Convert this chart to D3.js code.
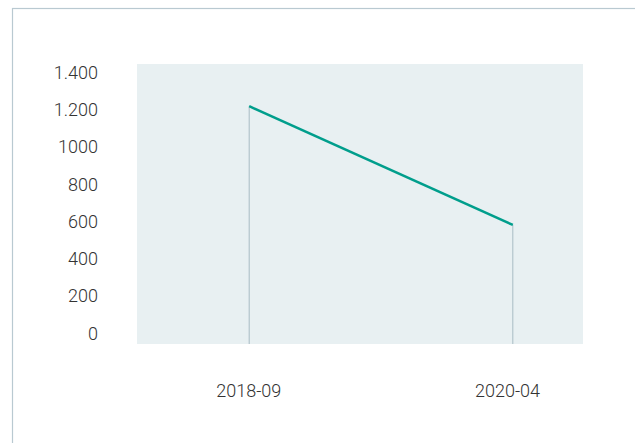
<!DOCTYPE html>
<html><head><meta charset="utf-8">
<script src="https://cdn.jsdelivr.net/npm/d3@7"></script>
<style>
html,body{margin:0;padding:0;background:#fff;}
svg{display:block;}
text{font-family:Roboto,"Noto Sans",sans-serif;font-weight:300;fill:#333;}
</style></head>
<body><svg id="c" width="635" height="443"></svg>
<script>
// data
const dates = ["2018-09-03", "2020-04-14"];
const values = [1220, 582];
const xTickLabels = ["2018-09", "2020-04"];
const yTickValues = [0, 200, 400, 600, 800, 1000, 1200, 1400];
const yTickLabels = ["0", "200", "400", "600", "800", "1000", "1.200", "1.400"];

const svg = d3.select("#c");
const parse = d3.timeParse("%Y-%m-%d");
const parseM = d3.timeParse("%Y-%m");
const pts = dates.map((d, i) => ({ date: parse(d), value: values[i] }));

// frame
svg.append("rect").attr("x", 12.5).attr("y", 8.5).attr("width", 700).attr("height", 500)
  .attr("fill", "none").attr("stroke", "#b9c9d1").attr("stroke-width", 1.2);

const plot = { left: 137, right: 583, top: 64, bottom: 344 };
svg.append("rect").attr("x", plot.left).attr("y", plot.top)
  .attr("width", plot.right - plot.left).attr("height", plot.bottom - plot.top)
  .attr("fill", "#e8f0f2");

const x = d3.scaleTime()
  .domain([parseM("2018-09"), parseM("2020-04")])
  .range([248.3, 507]);
const y = d3.scaleLinear().domain([0, 1400]).range([333.3, 72.7]);

// y axis labels
const yAxis = d3.axisLeft(y).tickValues(yTickValues)
  .tickFormat((d, i) => yTickLabels[i]).tickSize(0).tickPadding(0);
const gy = svg.append("g").attr("transform", "translate(98,0)").call(yAxis);
gy.select(".domain").remove();
gy.selectAll("text").attr("font-size", 18).attr("fill", "#333")
  .style("font-family", "Roboto, sans-serif").style("font-weight", 300);

// x axis labels
const xAxis = d3.axisBottom(x).tickValues(xTickLabels.map(parseM))
  .tickFormat((d, i) => xTickLabels[i]).tickSize(0).tickPadding(0);
const gx = svg.append("g").attr("transform", "translate(0,384)").call(xAxis);
gx.select(".domain").remove();
gx.selectAll("text").attr("font-size", 18).attr("fill", "#333")
  .style("font-family", "Roboto, sans-serif").style("font-weight", 300);

// drop lines
svg.selectAll(".drop").data(pts).join("line").attr("class", "drop")
  .attr("x1", d => x(d.date)).attr("x2", d => x(d.date))
  .attr("y1", d => y(d.value)).attr("y2", plot.bottom)
  .attr("stroke", "#a8bcc4").attr("stroke-width", 1);

// line
svg.append("path").datum(pts)
  .attr("d", d3.line().x(d => x(d.date)).y(d => y(d.value)))
  .attr("fill", "none").attr("stroke", "#009e8c").attr("stroke-width", 2.5);
</script></body></html>
